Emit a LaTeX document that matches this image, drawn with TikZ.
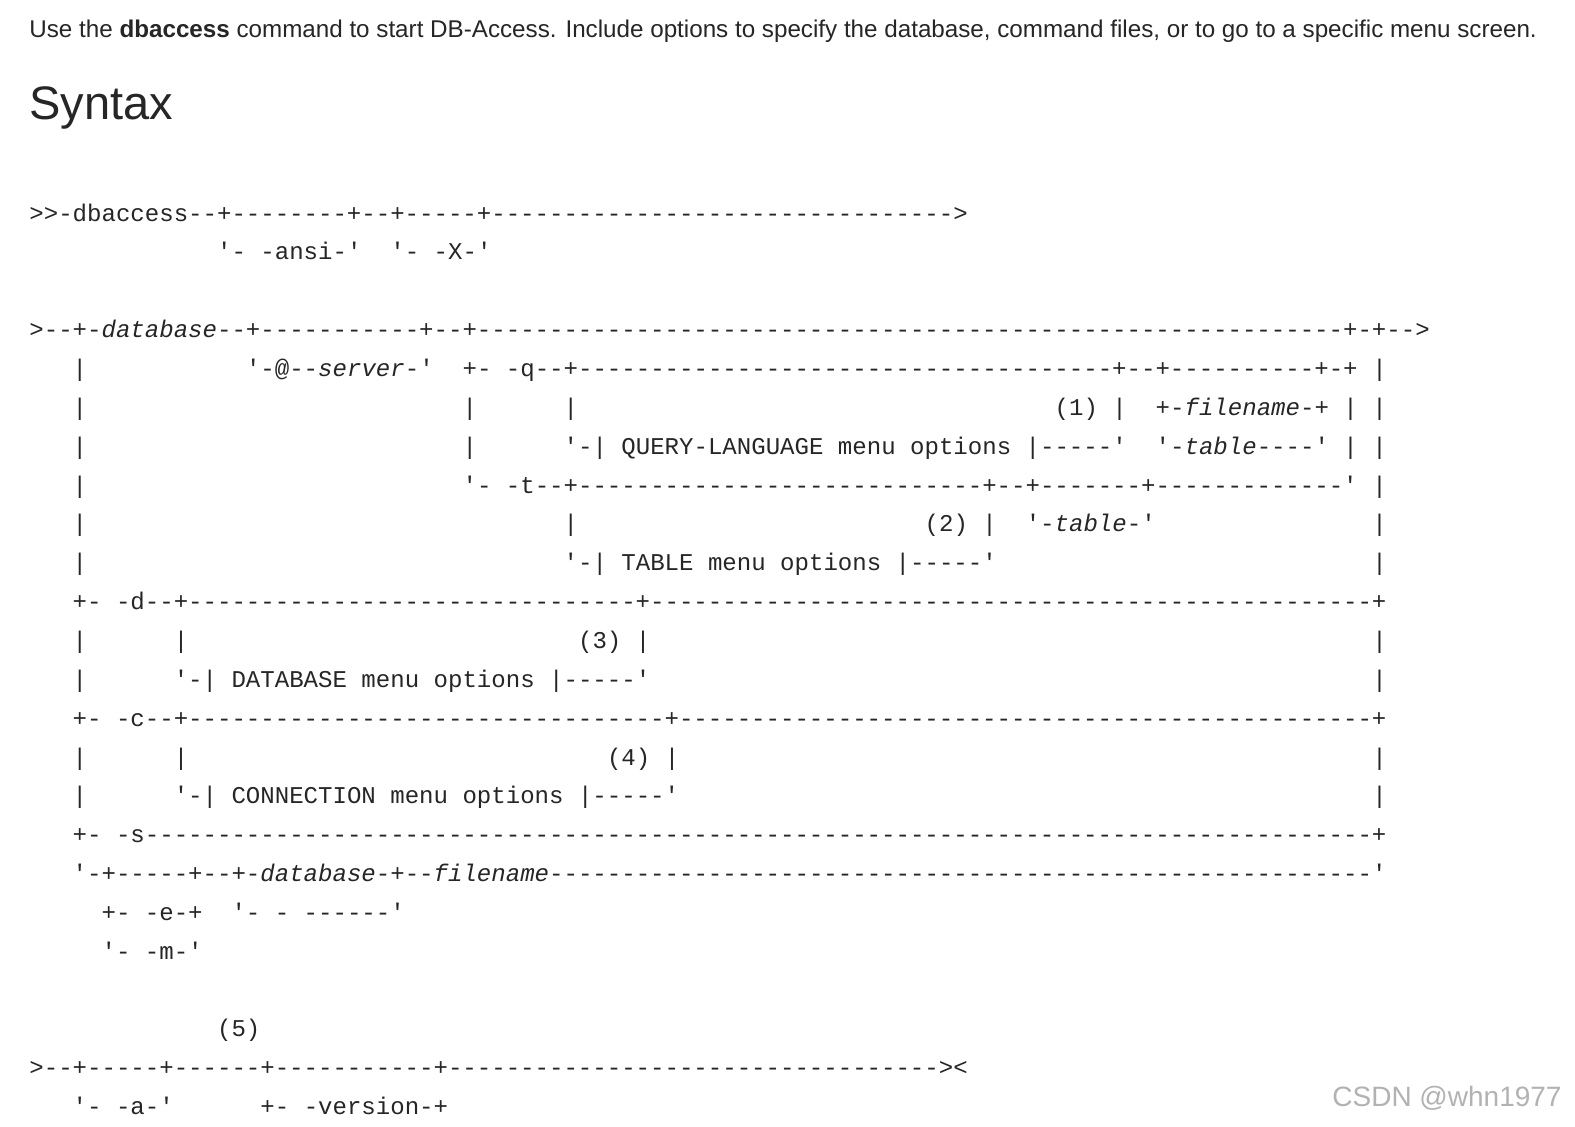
\documentclass[tikz,border=0pt]{standalone}
\usepackage{fontspec}
\setmainfont{Liberation Sans}
\setmonofont{Liberation Mono}
\def\Dsh#1{\ifnum#1>0 -\expandafter\Dsh\expandafter{\number\numexpr#1-1\relax}\fi}
\tikzset{tok/.style={anchor=base west,inner sep=0pt,font=\ttfamily\fontsize{12.03}{14}\selectfont,text=black!85}}
\newcommand\T[3]{\node[tok] at ({14.5pt+#1*7.22pt},{-(#2+9)*0.5pt}) {#3};}
\begin{document}
\begin{tikzpicture}
\useasboundingbox[fill=white] (0,0) rectangle (787.5pt,-563pt);
\node[anchor=base west,inner sep=0pt,font=\fontsize{12.1}{14}\selectfont,text=black!85] (intro) at (14.5pt,-18.5pt) {Use the \textbf{dbaccess} command to start DB-Access. Include options to specify the database, command files, or to go to a specific menu screen.};
\node[anchor=base west,inner sep=0pt,font=\fontsize{23.5}{28}\selectfont,text=black!85] (syn) at (14.5pt,-59.5pt) {Syntax};
% row 1
\T{0}{212}{>>-dbaccess--+--------+--+-----+\Dsh{32}>}
\T{13}{250}{'- -ansi-'}
\T{25}{250}{'- -X-'}
% row 3
\T{0}{328}{>--+-\textit{database}--+\Dsh{11}+--+\Dsh{60}+-+-->}
\T{3}{367}{|}\T{15}{367}{'-@--\textit{server}-'}
\T{30}{367}{+- -q--+\Dsh{37}+--+\Dsh{10}+-+}\T{93}{367}{|}
\T{3}{406}{|}\T{30}{406}{|}\T{37}{406}{|}\T{71}{406}{(1)}\T{75}{406}{|}
\T{78}{406}{+-\textit{filename}-+}\T{91}{406}{|}\T{93}{406}{|}
\T{3}{445}{|}\T{30}{445}{|}\T{37}{445}{'-| QUERY-LANGUAGE menu options |-----'}
\T{78}{445}{'-\textit{table}----'}\T{91}{445}{|}\T{93}{445}{|}
\T{3}{484}{|}\T{30}{484}{'- -t--+\Dsh{28}+--+\Dsh{7}+\Dsh{13}'}\T{93}{484}{|}
\T{3}{522}{|}\T{37}{522}{|}\T{62}{522}{(2)}\T{66}{522}{|}\T{69}{522}{'-\textit{table}-'}\T{93}{522}{|}
\T{3}{561}{|}\T{37}{561}{'-| TABLE menu options |-----'}\T{93}{561}{|}
\T{3}{600}{+- -d--+\Dsh{31}+\Dsh{50}+}
\T{3}{639}{|}\T{10}{639}{|}\T{38}{639}{(3)}\T{42}{639}{|}\T{93}{639}{|}
\T{3}{678}{|}\T{10}{678}{'-| DATABASE menu options |-----'}\T{93}{678}{|}
\T{3}{717}{+- -c--+\Dsh{33}+\Dsh{48}+}
\T{3}{756}{|}\T{10}{756}{|}\T{40}{756}{(4)}\T{44}{756}{|}\T{93}{756}{|}
\T{3}{794}{|}\T{10}{794}{'-| CONNECTION menu options |-----'}\T{93}{794}{|}
\T{3}{833}{+- -s\Dsh{85}+}
\T{3}{872}{'-+-----+--+-\textit{database}-+--\textit{filename}\Dsh{57}'}
\T{5}{911}{+- -e-+}\T{14}{911}{'- - ------'}
\T{5}{950}{'- -m-'}
% last
\T{13}{1027}{(5)}
\T{0}{1066}{>--+-----+------+\Dsh{11}+\Dsh{34}><}
\T{3}{1105}{'- -a-'}\T{16}{1105}{+- -version-+}
\node[anchor=base east,inner sep=0pt,font=\fontsize{14}{16}\selectfont,text=black!30] (wm) at (781pt,-553pt) {CSDN @whn1977};
\end{tikzpicture}
\end{document}
